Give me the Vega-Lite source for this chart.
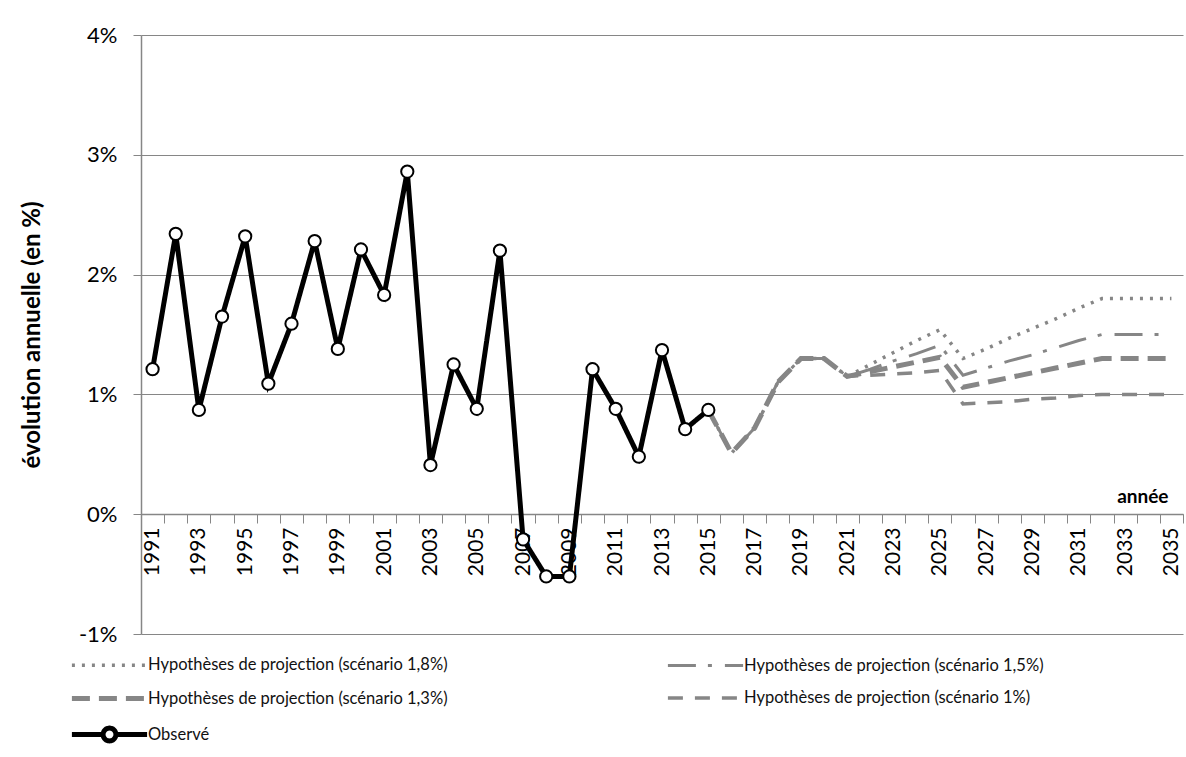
{
  "$schema": "https://vega.github.io/schema/vega-lite/v6.json",
  "width": 1042,
  "height": 599,
  "autosize": "none",
  "padding": {"left": 141, "top": 35, "right": 3, "bottom": 123},
  "background": "white",
  "config": {
    "font": "Lato",
    "view": {"stroke": null}
  },
  "data": {
    "values": [
      {"year": 1991, "value": 1.21, "series": "Observé"},
      {"year": 1992, "value": 2.34, "series": "Observé"},
      {"year": 1993, "value": 0.87, "series": "Observé"},
      {"year": 1994, "value": 1.65, "series": "Observé"},
      {"year": 1995, "value": 2.32, "series": "Observé"},
      {"year": 1996, "value": 1.09, "series": "Observé"},
      {"year": 1997, "value": 1.59, "series": "Observé"},
      {"year": 1998, "value": 2.28, "series": "Observé"},
      {"year": 1999, "value": 1.38, "series": "Observé"},
      {"year": 2000, "value": 2.21, "series": "Observé"},
      {"year": 2001, "value": 1.83, "series": "Observé"},
      {"year": 2002, "value": 2.86, "series": "Observé"},
      {"year": 2003, "value": 0.41, "series": "Observé"},
      {"year": 2004, "value": 1.25, "series": "Observé"},
      {"year": 2005, "value": 0.88, "series": "Observé"},
      {"year": 2006, "value": 2.2, "series": "Observé"},
      {"year": 2007, "value": -0.21, "series": "Observé"},
      {"year": 2008, "value": -0.52, "series": "Observé"},
      {"year": 2009, "value": -0.52, "series": "Observé"},
      {"year": 2010, "value": 1.21, "series": "Observé"},
      {"year": 2011, "value": 0.88, "series": "Observé"},
      {"year": 2012, "value": 0.48, "series": "Observé"},
      {"year": 2013, "value": 1.37, "series": "Observé"},
      {"year": 2014, "value": 0.71, "series": "Observé"},
      {"year": 2015, "value": 0.87, "series": "Observé"},

      {"year": 2015, "value": 0.87, "series": "Hypothèses de projection (scénario 1,8%)"},
      {"year": 2016, "value": 0.51, "series": "Hypothèses de projection (scénario 1,8%)"},
      {"year": 2017, "value": 0.72, "series": "Hypothèses de projection (scénario 1,8%)"},
      {"year": 2018, "value": 1.1, "series": "Hypothèses de projection (scénario 1,8%)"},
      {"year": 2019, "value": 1.3, "series": "Hypothèses de projection (scénario 1,8%)"},
      {"year": 2020, "value": 1.3, "series": "Hypothèses de projection (scénario 1,8%)"},
      {"year": 2021, "value": 1.15, "series": "Hypothèses de projection (scénario 1,8%)"},
      {"year": 2022, "value": 1.25, "series": "Hypothèses de projection (scénario 1,8%)"},
      {"year": 2023, "value": 1.35, "series": "Hypothèses de projection (scénario 1,8%)"},
      {"year": 2024, "value": 1.45, "series": "Hypothèses de projection (scénario 1,8%)"},
      {"year": 2025, "value": 1.54, "series": "Hypothèses de projection (scénario 1,8%)"},
      {"year": 2026, "value": 1.3, "series": "Hypothèses de projection (scénario 1,8%)"},
      {"year": 2027, "value": 1.38, "series": "Hypothèses de projection (scénario 1,8%)"},
      {"year": 2028, "value": 1.47, "series": "Hypothèses de projection (scénario 1,8%)"},
      {"year": 2029, "value": 1.55, "series": "Hypothèses de projection (scénario 1,8%)"},
      {"year": 2030, "value": 1.63, "series": "Hypothèses de projection (scénario 1,8%)"},
      {"year": 2031, "value": 1.72, "series": "Hypothèses de projection (scénario 1,8%)"},
      {"year": 2032, "value": 1.8, "series": "Hypothèses de projection (scénario 1,8%)"},
      {"year": 2033, "value": 1.8, "series": "Hypothèses de projection (scénario 1,8%)"},
      {"year": 2034, "value": 1.8, "series": "Hypothèses de projection (scénario 1,8%)"},
      {"year": 2035, "value": 1.8, "series": "Hypothèses de projection (scénario 1,8%)"},

      {"year": 2015, "value": 0.87, "series": "Hypothèses de projection (scénario 1,5%)"},
      {"year": 2016, "value": 0.51, "series": "Hypothèses de projection (scénario 1,5%)"},
      {"year": 2017, "value": 0.72, "series": "Hypothèses de projection (scénario 1,5%)"},
      {"year": 2018, "value": 1.1, "series": "Hypothèses de projection (scénario 1,5%)"},
      {"year": 2019, "value": 1.3, "series": "Hypothèses de projection (scénario 1,5%)"},
      {"year": 2020, "value": 1.3, "series": "Hypothèses de projection (scénario 1,5%)"},
      {"year": 2021, "value": 1.15, "series": "Hypothèses de projection (scénario 1,5%)"},
      {"year": 2022, "value": 1.21, "series": "Hypothèses de projection (scénario 1,5%)"},
      {"year": 2023, "value": 1.28, "series": "Hypothèses de projection (scénario 1,5%)"},
      {"year": 2024, "value": 1.34, "series": "Hypothèses de projection (scénario 1,5%)"},
      {"year": 2025, "value": 1.41, "series": "Hypothèses de projection (scénario 1,5%)"},
      {"year": 2026, "value": 1.16, "series": "Hypothèses de projection (scénario 1,5%)"},
      {"year": 2027, "value": 1.22, "series": "Hypothèses de projection (scénario 1,5%)"},
      {"year": 2028, "value": 1.28, "series": "Hypothèses de projection (scénario 1,5%)"},
      {"year": 2029, "value": 1.33, "series": "Hypothèses de projection (scénario 1,5%)"},
      {"year": 2030, "value": 1.39, "series": "Hypothèses de projection (scénario 1,5%)"},
      {"year": 2031, "value": 1.45, "series": "Hypothèses de projection (scénario 1,5%)"},
      {"year": 2032, "value": 1.5, "series": "Hypothèses de projection (scénario 1,5%)"},
      {"year": 2033, "value": 1.5, "series": "Hypothèses de projection (scénario 1,5%)"},
      {"year": 2034, "value": 1.5, "series": "Hypothèses de projection (scénario 1,5%)"},
      {"year": 2035, "value": 1.5, "series": "Hypothèses de projection (scénario 1,5%)"},

      {"year": 2015, "value": 0.87, "series": "Hypothèses de projection (scénario 1,3%)"},
      {"year": 2016, "value": 0.51, "series": "Hypothèses de projection (scénario 1,3%)"},
      {"year": 2017, "value": 0.72, "series": "Hypothèses de projection (scénario 1,3%)"},
      {"year": 2018, "value": 1.1, "series": "Hypothèses de projection (scénario 1,3%)"},
      {"year": 2019, "value": 1.3, "series": "Hypothèses de projection (scénario 1,3%)"},
      {"year": 2020, "value": 1.3, "series": "Hypothèses de projection (scénario 1,3%)"},
      {"year": 2021, "value": 1.15, "series": "Hypothèses de projection (scénario 1,3%)"},
      {"year": 2022, "value": 1.19, "series": "Hypothèses de projection (scénario 1,3%)"},
      {"year": 2023, "value": 1.23, "series": "Hypothèses de projection (scénario 1,3%)"},
      {"year": 2024, "value": 1.27, "series": "Hypothèses de projection (scénario 1,3%)"},
      {"year": 2025, "value": 1.31, "series": "Hypothèses de projection (scénario 1,3%)"},
      {"year": 2026, "value": 1.06, "series": "Hypothèses de projection (scénario 1,3%)"},
      {"year": 2027, "value": 1.1, "series": "Hypothèses de projection (scénario 1,3%)"},
      {"year": 2028, "value": 1.14, "series": "Hypothèses de projection (scénario 1,3%)"},
      {"year": 2029, "value": 1.18, "series": "Hypothèses de projection (scénario 1,3%)"},
      {"year": 2030, "value": 1.22, "series": "Hypothèses de projection (scénario 1,3%)"},
      {"year": 2031, "value": 1.26, "series": "Hypothèses de projection (scénario 1,3%)"},
      {"year": 2032, "value": 1.3, "series": "Hypothèses de projection (scénario 1,3%)"},
      {"year": 2033, "value": 1.3, "series": "Hypothèses de projection (scénario 1,3%)"},
      {"year": 2034, "value": 1.3, "series": "Hypothèses de projection (scénario 1,3%)"},
      {"year": 2035, "value": 1.3, "series": "Hypothèses de projection (scénario 1,3%)"},

      {"year": 2015, "value": 0.87, "series": "Hypothèses de projection (scénario 1%)"},
      {"year": 2016, "value": 0.51, "series": "Hypothèses de projection (scénario 1%)"},
      {"year": 2017, "value": 0.72, "series": "Hypothèses de projection (scénario 1%)"},
      {"year": 2018, "value": 1.1, "series": "Hypothèses de projection (scénario 1%)"},
      {"year": 2019, "value": 1.3, "series": "Hypothèses de projection (scénario 1%)"},
      {"year": 2020, "value": 1.3, "series": "Hypothèses de projection (scénario 1%)"},
      {"year": 2021, "value": 1.15, "series": "Hypothèses de projection (scénario 1%)"},
      {"year": 2022, "value": 1.16, "series": "Hypothèses de projection (scénario 1%)"},
      {"year": 2023, "value": 1.17, "series": "Hypothèses de projection (scénario 1%)"},
      {"year": 2024, "value": 1.18, "series": "Hypothèses de projection (scénario 1%)"},
      {"year": 2025, "value": 1.2, "series": "Hypothèses de projection (scénario 1%)"},
      {"year": 2026, "value": 0.92, "series": "Hypothèses de projection (scénario 1%)"},
      {"year": 2027, "value": 0.93, "series": "Hypothèses de projection (scénario 1%)"},
      {"year": 2028, "value": 0.94, "series": "Hypothèses de projection (scénario 1%)"},
      {"year": 2029, "value": 0.96, "series": "Hypothèses de projection (scénario 1%)"},
      {"year": 2030, "value": 0.97, "series": "Hypothèses de projection (scénario 1%)"},
      {"year": 2031, "value": 0.99, "series": "Hypothèses de projection (scénario 1%)"},
      {"year": 2032, "value": 1.0, "series": "Hypothèses de projection (scénario 1%)"},
      {"year": 2033, "value": 1.0, "series": "Hypothèses de projection (scénario 1%)"},
      {"year": 2034, "value": 1.0, "series": "Hypothèses de projection (scénario 1%)"},
      {"year": 2035, "value": 1.0, "series": "Hypothèses de projection (scénario 1%)"}
    ]
  },
  "encoding": {
    "x": {
      "field": "year",
      "type": "ordinal",
      "scale": {"type": "band", "paddingInner": 0, "paddingOuter": 0},
      "axis": {
        "title": "année",
        "titleFont": "Lato",
        "titleFontSize": 19,
        "titleFontWeight": "bold",
        "titleColor": "#000",
        "titleAlign": "right",
        "titleAnchor": "end",
        "titleBaseline": "bottom",
        "titleX": 1027,
        "titleY": -8,
        "offset": -120,
        "domainColor": "#868686",
        "domainWidth": 1.5,
        "tickColor": "#868686",
        "tickSize": 9,
        "tickBand": "extent",
        "labelAngle": -90,
        "labelFontSize": 21,
        "labelColor": "#000",
        "labelPadding": 4,
        "labelOverlap": false,
        "labelExpr": "(datum.value - 1991) % 2 == 0 ? datum.label : ''",
        "grid": false
      }
    },
    "y": {
      "field": "value",
      "type": "quantitative",
      "scale": {"domain": [-1, 4], "nice": false, "zero": false},
      "axis": {
        "title": "évolution annuelle (en %)",
        "titleFontSize": 24,
        "titleFontWeight": "bold",
        "titleColor": "#000",
        "titlePadding": 34,
        "values": [-1, 0, 1, 2, 3, 4],
        "labelExpr": "datum.value + '%'",
        "labelFontSize": 22,
        "labelColor": "#000",
        "labelPadding": 16,
        "tickSize": 8,
        "tickColor": "#868686",
        "domainColor": "#868686",
        "domainWidth": 1.5,
        "gridColor": "#868686",
        "gridWidth": 1
      }
    }
  },
  "layer": [
    {
      "mark": {"type": "line"},
      "encoding": {
        "color": {
          "field": "series",
          "type": "nominal",
          "scale": {
            "domain": [
              "Hypothèses de projection (scénario 1,8%)",
              "Hypothèses de projection (scénario 1,5%)",
              "Hypothèses de projection (scénario 1,3%)",
              "Hypothèses de projection (scénario 1%)",
              "Observé"
            ],
            "range": ["#868686", "#868686", "#868686", "#868686", "#000000"]
          },
          "legend": {
            "title": null,
            "orient": "none",
            "direction": "horizontal",
            "legendX": -72,
            "legendY": 620,
            "columns": 2,
            "columnPadding": 212,
            "rowPadding": 3,
            "padding": 0,
            "labelFont": "Lato",
            "labelFontSize": 16.5,
            "labelColor": "#111",
            "labelLimit": 500,
            "symbolSize": 256,
            "symbolOffset": 30,
            "labelOffset": 28,
            "encode": {
              "symbols": {
                "update": {
                  "shape": {"signal": "datum.value === 'Observé' ? 'M-4.7,0H-0.8M0.8,0H4.7M-0.8,0A0.8,0.8,0,1,1,0.8,0A0.8,0.8,0,1,1,-0.8,0' : 'M-4.7,0H4.7M0,-0.8L0,-0.8M0,0.8L0,0.8'"},
                  "fill": {"signal": "datum.value === 'Observé' ? 'white' : 'transparent'"},
                  "strokeWidth": {"signal": "datum.value === 'Observé' ? 4 : (indexof(datum.value, '1,3%') >= 0 ? 5 : 3.5)"}
                }
              }
            }
          }
        },
        "strokeDash": {
          "field": "series",
          "type": "nominal",
          "scale": {
            "domain": [
              "Hypothèses de projection (scénario 1,8%)",
              "Hypothèses de projection (scénario 1,5%)",
              "Hypothèses de projection (scénario 1,3%)",
              "Hypothèses de projection (scénario 1%)",
              "Observé"
            ],
            "range": [[3, 7], [28, 12, 4, 13], [18, 9], [15, 12], [1, 0]]
          },
          "legend": null
        },
        "strokeWidth": {
          "field": "series",
          "type": "ordinal",
          "scale": {
            "type": "ordinal",
            "domain": [
              "Hypothèses de projection (scénario 1,8%)",
              "Hypothèses de projection (scénario 1,5%)",
              "Hypothèses de projection (scénario 1,3%)",
              "Hypothèses de projection (scénario 1%)",
              "Observé"
            ],
            "range": [3.5, 3, 5, 3.5, 5]
          },
          "legend": null
        }
      }
    },
    {
      "transform": [{"filter": "datum.series === 'Observé'"}],
      "mark": {"type": "point", "shape": "circle", "filled": true, "fill": "white", "stroke": "black", "strokeWidth": 2, "size": 150, "opacity": 1}
    }
  ]
}
